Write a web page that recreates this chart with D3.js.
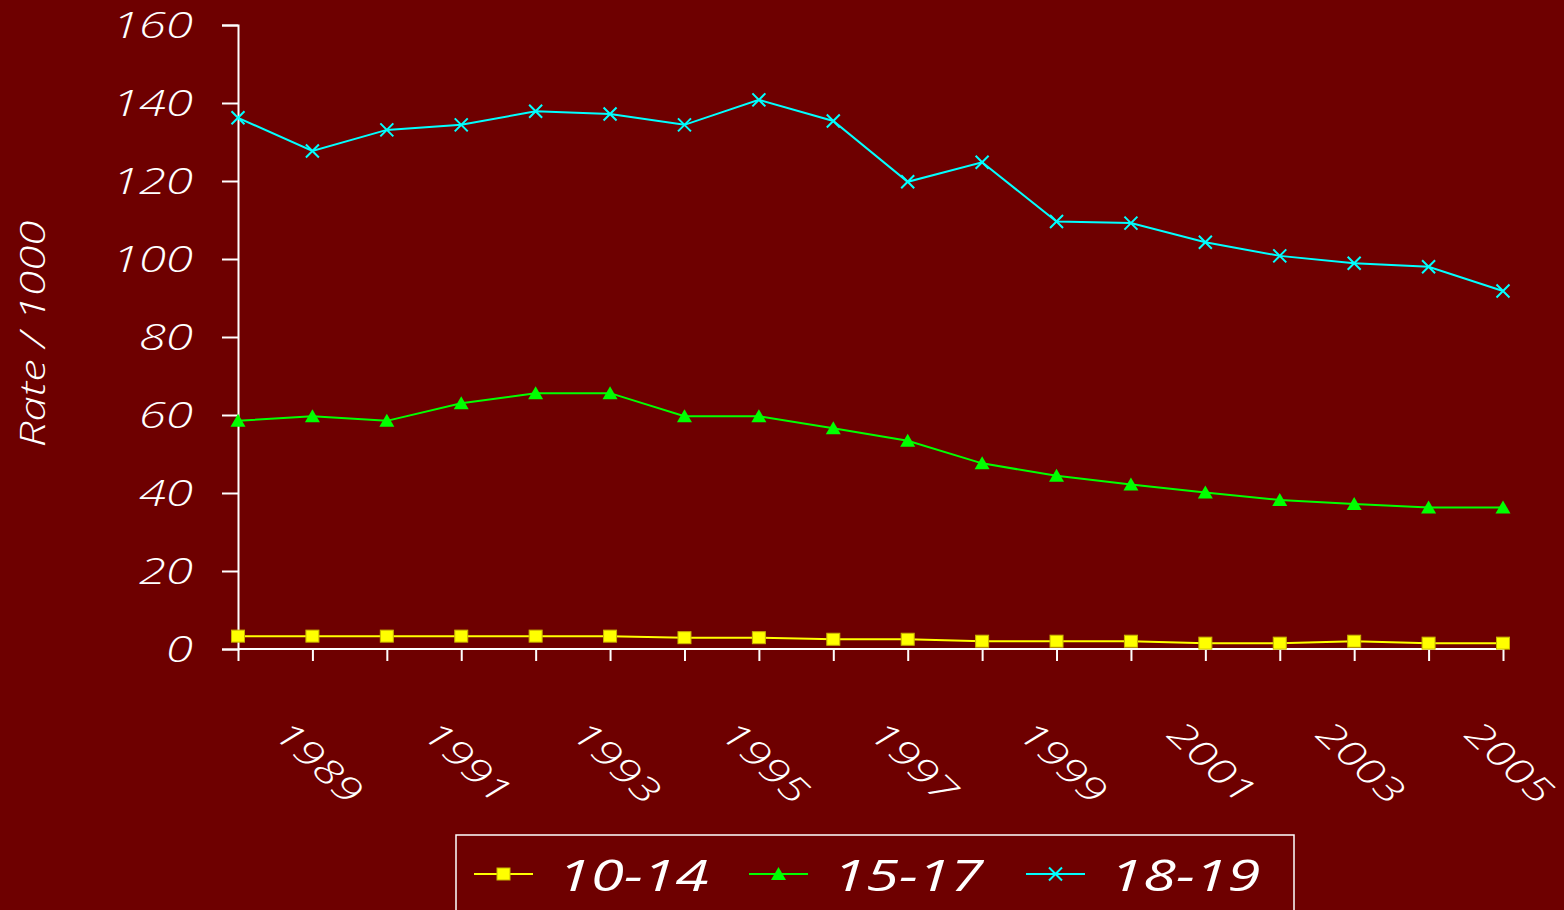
<!DOCTYPE html>
<html>
<head>
<meta charset="utf-8">
<script src="https://cdn.jsdelivr.net/npm/d3@7/dist/d3.min.js"></script>
<style>
  html, body { margin: 0; padding: 0; background: #6e0000; }
  svg { display: block; }
  text { font-family: "Open Sans", "DejaVu Sans", sans-serif; font-style: italic; font-weight: 300; fill: #ffffff; }
</style>
</head>
<body>
<script>
const years = [1988,1989,1990,1991,1992,1993,1994,1995,1996,1997,1998,1999,2000,2001,2002,2003,2004,2005];
const seriesNames = ["10-14", "15-17", "18-19"];
const rate10_14 = [3.3,3.3,3.3,3.3,3.3,3.3,2.9,2.9,2.5,2.5,2.0,2.0,2.0,1.5,1.5,2.0,1.5,1.5];
const rate15_17 = [58.5,59.7,58.5,63.0,65.6,65.6,59.7,59.7,56.6,53.4,47.6,44.4,42.2,40.1,38.2,37.2,36.3,36.3];
const rate18_19 = [136.2,127.7,133.1,134.4,137.9,137.2,134.4,140.8,135.4,119.8,124.8,109.6,109.2,104.3,100.8,98.9,98.0,91.8];
const yTicks = [0,20,40,60,80,100,120,140,160];
const xLabelYears = [1989,1991,1993,1995,1997,1999,2001,2003,2005];
const yTitle = "Rate / 1000";

const colors = ["#ffff00", "#00ff00", "#00ffff"];
const W = 1564, H = 910;

const svg = d3.select("body").append("svg").attr("width", W).attr("height", H);
svg.append("rect").attr("width", W).attr("height", H).attr("fill", "#6e0000");

const x = d3.scaleLinear().domain([1988, 2005]).range([238, 1503]);
const y = d3.scaleLinear().domain([0, 160]).range([649, 25]);

// Y axis
const yAxis = svg.append("g").attr("transform", "translate(238,0)")
  .call(d3.axisLeft(y).tickValues(yTicks).tickSize(16).tickSizeOuter(16).tickFormat(d3.format("d")));
yAxis.selectAll("path, line").attr("stroke", "#ffffff").attr("stroke-width", 2);
yAxis.selectAll("text")
  .attr("x", 0).attr("dy", null).attr("y", 0)
  .attr("transform", `translate(-45,12.5) scale(1.36,1)`)
  .attr("text-anchor", "end")
  .style("font-size", "36px").attr("fill", "#fff");

// X axis
const xAxis = svg.append("g").attr("transform", "translate(0,649)")
  .call(d3.axisBottom(x).tickValues(years).tickSize(12).tickSizeOuter(0)
    .tickFormat(d => xLabelYears.includes(d) ? String(d) : ""));
xAxis.selectAll("path, line").attr("stroke", "#ffffff").attr("stroke-width", 2);
xAxis.select(".domain").attr("d", `M238,0H1504`);
xAxis.selectAll("text")
  .attr("y", 0).attr("dy", null)
  .attr("transform", `translate(7,112) rotate(43) scale(1.3,1)`)
  .attr("text-anchor", "middle")
  .attr("dominant-baseline", "central")
  .style("font-size", "36px").attr("fill", "#fff");

// Y title
svg.append("text")
  .attr("transform", `translate(45,334) rotate(-90) scale(1.3,1)`)
  .attr("text-anchor", "middle")
  .style("font-size", "35px")
  .text(yTitle);

// Series
const data = [rate10_14, rate15_17, rate18_19];
const line = d3.line().x((d, i) => x(years[i])).y(d => y(d));

function drawMarker(g, k, cx, cy) {
  if (k === 0) {
    g.append("rect").attr("x", cx - 6.5).attr("y", cy - 6).attr("width", 13).attr("height", 12)
      .attr("fill", colors[0]).attr("stroke", "#c8b400").attr("stroke-width", 1);
  } else if (k === 1) {
    g.append("path").attr("d", `M${cx},${cy - 7}L${cx + 7.5},${cy + 6}L${cx - 7.5},${cy + 6}Z`)
      .attr("fill", colors[1]);
  } else {
    g.append("path").attr("d", `M${cx - 6.5},${cy - 6.5}L${cx + 6.5},${cy + 6.5}M${cx - 6.5},${cy + 6.5}L${cx + 6.5},${cy - 6.5}`)
      .attr("stroke", colors[2]).attr("stroke-width", 2).attr("fill", "none");
  }
}

data.forEach((vals, k) => {
  const g = svg.append("g");
  g.append("path").datum(vals).attr("d", line)
    .attr("fill", "none").attr("stroke", colors[k]).attr("stroke-width", 2);
  vals.forEach((v, i) => drawMarker(g, k, x(years[i]), y(v)));
});

// Legend
const lg = svg.append("g");
lg.append("rect").attr("x", 456).attr("y", 835).attr("width", 838).attr("height", 90)
  .attr("fill", "none").attr("stroke", "#ffffff").attr("stroke-width", 1.5);
const legendX = [474, 749, 1026];
seriesNames.forEach((name, k) => {
  const lx = legendX[k];
  lg.append("line").attr("x1", lx).attr("x2", lx + 59).attr("y1", 874).attr("y2", 874)
    .attr("stroke", colors[k]).attr("stroke-width", 2);
  drawMarker(lg, k, lx + 29.5, 874);
  lg.append("text")
    .attr("transform", `translate(${lx + 84},891) scale(1.36,1)`)
    .style("font-size", "44px")
    .style("font-weight", 400)
    .text(name);
});
</script>
</body>
</html>
